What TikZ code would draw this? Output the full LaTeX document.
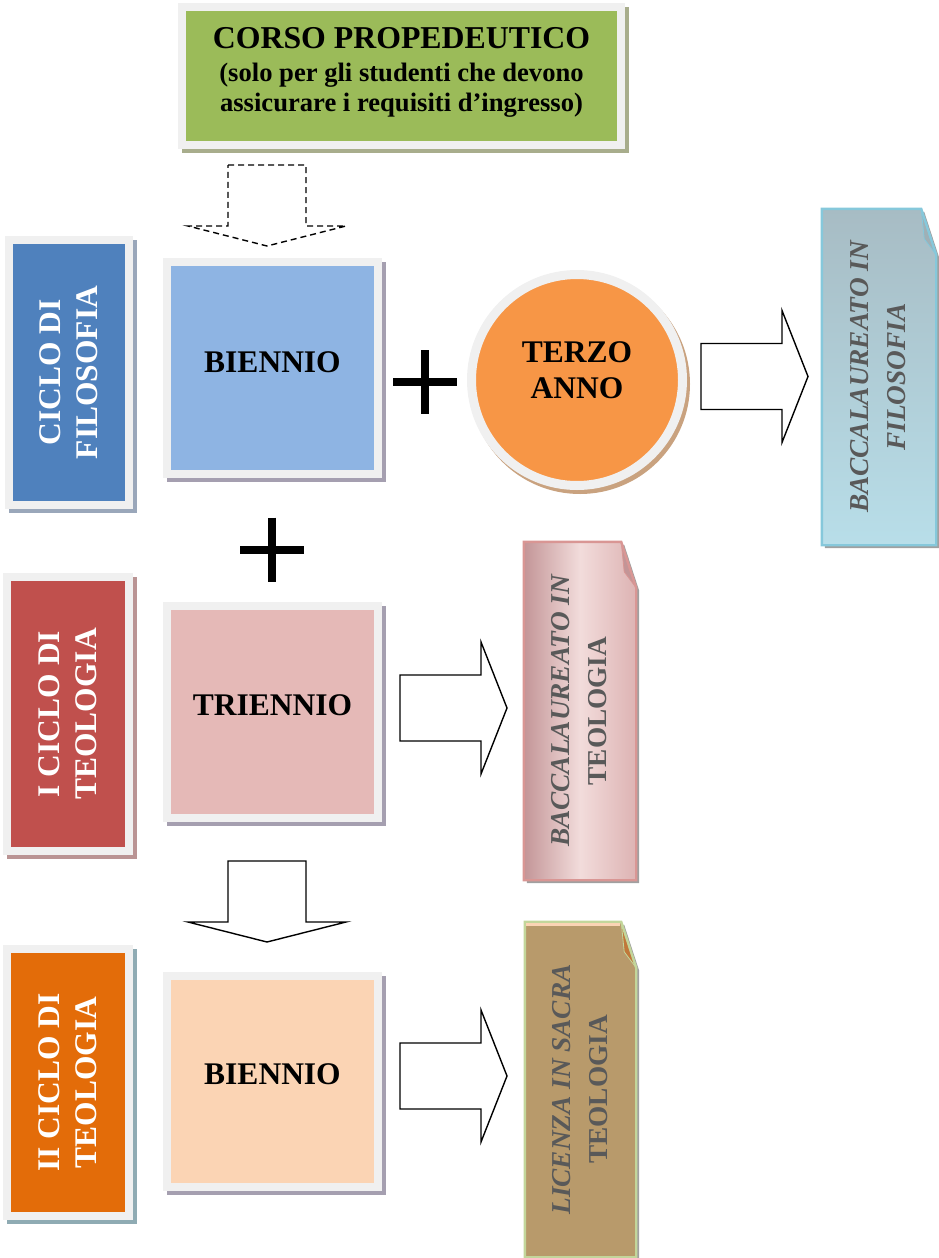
\documentclass[tikz,border=0pt]{standalone}
\usepackage{fontspec}
\setmainfont{Liberation Serif}
\usetikzlibrary{calc}
\definecolor{framegray}{HTML}{F0F0F0}
\definecolor{cgreen}{HTML}{9BBB59}
\definecolor{sgreen}{HTML}{A8AD8C}
\definecolor{cblue}{HTML}{4F81BD}
\definecolor{sblue}{HTML}{9AA7BA}
\definecolor{lblue}{HTML}{8EB4E3}
\definecolor{smauve}{HTML}{A59FB0}
\definecolor{corange}{HTML}{F79646}
\definecolor{sorange}{HTML}{C9A27F}
\definecolor{cred}{HTML}{C0504D}
\definecolor{sred}{HTML}{BA9494}
\definecolor{cpink}{HTML}{E5B9B7}
\definecolor{cdorange}{HTML}{E36C09}
\definecolor{steal}{HTML}{8FABB3}
\definecolor{cpeach}{HTML}{FBD4B4}
\definecolor{doctext}{HTML}{595959}
\definecolor{dblueA}{HTML}{A7BCC4}
\definecolor{dblueB}{HTML}{B8DEE9}
\definecolor{dblueL}{HTML}{86C8DB}
\definecolor{dpinkA}{HTML}{C39597}
\definecolor{dpinkB}{HTML}{F2DCDB}
\definecolor{dpinkC}{HTML}{DDB3B3}
\definecolor{dpinkL}{HTML}{D99694}
\definecolor{dtan}{HTML}{B89A6B}
\definecolor{dgreenL}{HTML}{C3D69B}
\definecolor{dfold}{HTML}{C0783A}
\definecolor{dshadow}{HTML}{A0A0A0}
\pgfdeclarelayer{background}
\pgfsetlayers{background,main}
\newcommand\boxshadow[2]{\begin{pgfonlayer}{background}\fill[#2] ([shift={(4pt,-4pt)}]#1.south west) rectangle ([shift={(4pt,-4pt)}]#1.north east);\end{pgfonlayer}}
% #1 node, #2 fill/shade options, #3 border colour, #4 fold fill
\newcommand\docshape[4]{%
  \begin{pgfonlayer}{background}
  \fill[dshadow] ([shift={(3pt,-3pt)}]#1.north west) -- ([shift={(-12pt,-3pt)}]#1.north east) -- ([shift={(3pt,-49pt)}]#1.north east) -- ([shift={(3pt,-3pt)}]#1.south east) -- ([shift={(3pt,-3pt)}]#1.south west) -- cycle;
  \shade[#2] (#1.north west) -- ([xshift=-15pt]#1.north east) -- ([yshift=-46pt]#1.north east) -- (#1.south east) -- (#1.south west) -- cycle;
  \fill[#4] ([xshift=-15pt]#1.north east) -- ([shift={(-12pt,-30pt)}]#1.north east) -- ([yshift=-46pt]#1.north east) -- cycle;
  \draw[#3, line width=2.4pt, line join=miter] (#1.north west) -- ([xshift=-15pt]#1.north east) -- ([yshift=-46pt]#1.north east) -- (#1.south east) -- (#1.south west) -- cycle;
  \draw[#3, line width=0.8pt] ([xshift=-15pt]#1.north east) -- ([shift={(-12pt,-30pt)}]#1.north east) -- ([yshift=-46pt]#1.north east);
  \end{pgfonlayer}}
\tikzset{
  panel/.style={rectangle, draw=framegray, line width=8pt, fill=#1, inner sep=0pt,
    font=\fontsize{31.5}{37}\selectfont\bfseries},
  sidepanel/.style={panel=#1, text=white},
  docnode/.style={rectangle, inner sep=0pt, text=doctext,
    font=\fontsize{27.3}{37}\selectfont\bfseries},
  blockline/.style={draw=black, line width=1.4pt, line join=miter, fill=white},
  rarrow/.pic={\path[blockline, pic actions] (0,-33) -- (81,-33) -- (81,-66) -- (107,0) -- (81,66) -- (81,33) -- (0,33) -- cycle;},
  darrow/.pic={\path[blockline, pic actions] (-39,0) -- (39,0) -- (39,61) -- (79,61) -- (0,81) -- (-79,61) -- (-39,61) -- cycle;},
  plussign/.pic={\draw[line width=8pt] (-32,0) -- (32,0) (0,-32) -- (0,32);},
}
\begin{document}
\begin{tikzpicture}[x=1pt,y=-1pt]
\useasboundingbox (0,0) rectangle (939,1258);

% top box
\node[panel=cgreen, minimum width=439pt, minimum height=137.5pt] (corso) at (401.5,75.75) {};
\boxshadow{corso}{sgreen}
\node[align=center, inner sep=0pt, font=\fontsize{26.6}{29.5}\selectfont\bfseries] (corsot) at (401.5,72)
  {{\fontsize{31.8}{34}\selectfont CORSO PROPEDEUTICO}\\[4pt]
   (solo per gli studenti che devono\\
   assicurare i requisiti d'ingresso)};

% dashed arrow
\pic[dash pattern=on 6pt off 4pt, line width=1.3pt, fill=none] at (267,165) {darrow};

% row 1
\node[sidepanel=cblue, minimum width=120pt, minimum height=265pt] (cfil) at (69,372.5)
  {\rotatebox{90}{\begin{tabular}{@{}c@{}}\rule{0pt}{32pt}CICLO DI\\FILOSOFIA\end{tabular}}};
\boxshadow{cfil}{sblue}
\node[panel=lblue, minimum width=211pt, minimum height=212pt, text depth=11pt] (bien1) at (272.5,368) {BIENNIO};
\boxshadow{bien1}{smauve}
\pic at (425,382) {plussign};
\begin{pgfonlayer}{background}
\fill[sorange] ([shift={(3pt,-4pt)}]577,380) circle (110pt);
\end{pgfonlayer}
\node[circle, draw=framegray, line width=9pt, fill=corange, minimum size=211pt, inner sep=0pt,
  align=center, text depth=20pt, font=\fontsize{31.5}{36}\selectfont\bfseries] (terzo) at (577,380) {TERZO\\ANNO};
\pic at (701,376.5) {rarrow};
\node[docnode, minimum width=114pt, minimum height=336pt] (dfil) at (879,377)
  {\rotatebox{90}{\begin{tabular}{@{}c@{}}\rule{0pt}{28pt}\itshape BACCALAUREATO IN\\\itshape FILOSOFIA\end{tabular}}};
\docshape{dfil}{top color=dblueA, bottom color=dblueB}{dblueL}{dblueA!80!gray}

% plus between rows
\pic at (272,549.5) {plussign};

% row 2
\node[sidepanel=cred, minimum width=122pt, minimum height=274pt] (ict) at (68,714)
  {\rotatebox{90}{\begin{tabular}{@{}c@{}}\rule{0pt}{32pt}I CICLO DI\\TEOLOGIA\end{tabular}}};
\boxshadow{ict}{sred}
\node[panel=cpink, minimum width=211pt, minimum height=212pt, text depth=14pt] (trien) at (272.5,712) {TRIENNIO};
\boxshadow{trien}{smauve}
\pic at (400,708) {rarrow};
\node[docnode, minimum width=112pt, minimum height=338pt] (dteo) at (580,711)
  {\rotatebox{90}{\begin{tabular}{@{}c@{}}\rule{0pt}{28pt}\itshape BACCALAUREATO IN\\TEOLOGIA\end{tabular}}};
\docshape{dteo}{left color=dpinkA, right color=dpinkC, middle color=dpinkB}{dpinkL}{dpinkA}

% solid down arrow
\pic at (267,861) {darrow};

% row 3
\node[sidepanel=cdorange, minimum width=122pt, minimum height=267pt] (iict) at (68,1082.5)
  {\rotatebox{90}{\begin{tabular}{@{}c@{}}\rule{0pt}{32pt}II CICLO DI\\TEOLOGIA\end{tabular}}};
\boxshadow{iict}{steal}
\node[panel=cpeach, minimum width=211pt, minimum height=211pt, text depth=14pt] (bien2) at (272.5,1081.5) {BIENNIO};
\boxshadow{bien2}{smauve}
\pic at (400,1076) {rarrow};
\node[docnode, minimum width=111pt, minimum height=335pt] (dlic) at (580.5,1089.5)
  {\rotatebox{90}{\begin{tabular}{@{}c@{}}\rule{0pt}{28pt}\itshape LICENZA IN SACRA\\TEOLOGIA\end{tabular}}};
\docshape{dlic}{top color=dtan, bottom color=dtan}{dgreenL}{dfold}
\begin{pgfonlayer}{background}
\draw[cpeach, line width=3pt] ([shift={(1.5pt,-3pt)}]dlic.north west) -- ([shift={(-16pt,-3pt)}]dlic.north east);
\end{pgfonlayer}
\end{tikzpicture}
\end{document}
